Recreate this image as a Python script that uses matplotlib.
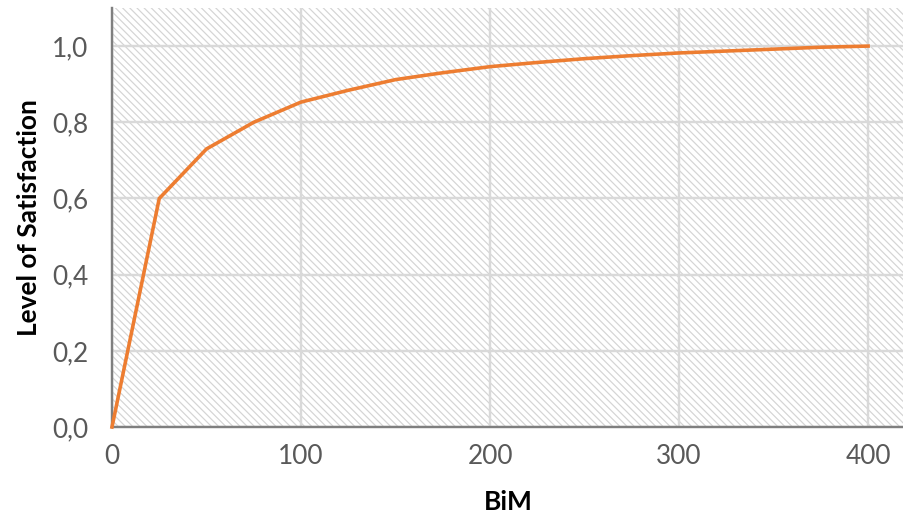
import matplotlib
matplotlib.use("Agg")
import matplotlib.pyplot as plt
from matplotlib.patches import Rectangle
from matplotlib.ticker import FuncFormatter

# ── data ─────────────────────────────────────────────────────
bim = [0, 25, 50, 75, 100, 125, 150, 175, 200, 225, 250, 275, 300, 325, 350, 375, 400]
satisfaction = [0.0, 0.60, 0.73, 0.80, 0.853, 0.884, 0.912, 0.930, 0.946, 0.957,
                0.967, 0.975, 0.982, 0.987, 0.992, 0.997, 1.0]
x_ticks = [0, 100, 200, 300, 400]
y_ticks = [0.0, 0.2, 0.4, 0.6, 0.8, 1.0]

DPI = 86
plt.rcParams['font.family'] = ['Lato', 'DejaVu Sans']
plt.rcParams['hatch.color'] = '#d4d4d4'
plt.rcParams['hatch.linewidth'] = 1.0

fig = plt.figure(figsize=(904 / DPI, 527 / DPI), dpi=DPI)
ax = fig.add_axes([112 / 904, 1 - 427 / 527, 1 - 112 / 904, (427 - 8) / 527])

# diagonal hatched background
bg = Rectangle((0, 0), 1, 1, transform=ax.transAxes, facecolor='white',
               edgecolor='#d4d4d4', linewidth=0, hatch='\\\\\\\\', zorder=0)
ax.add_patch(bg)

ax.set_xlim(0, 419)
ax.set_ylim(0, 1.1)
ax.set_xticks(x_ticks)
ax.set_yticks(y_ticks)
ax.yaxis.set_major_formatter(FuncFormatter(lambda v, p: f"{v:.1f}".replace('.', ',')))

ax.grid(True, color='#d9d9d9', linewidth=2.0, zorder=1)
ax.set_axisbelow(True)

ax.plot(bim, satisfaction, color='#ED7D31', linewidth=3.0, zorder=3,
        solid_joinstyle='miter', clip_on=False)

for side in ['top', 'right']:
    ax.spines[side].set_visible(False)
for side in ['left', 'bottom']:
    ax.spines[side].set_color('#7f7f7f')
    ax.spines[side].set_linewidth(2.0)
    ax.spines[side].set_zorder(2)

ax.tick_params(axis='both', length=0, labelsize=22, labelcolor='#595959')
ax.tick_params(axis='y', pad=20)
ax.tick_params(axis='x', pad=14)

ax.set_xlabel('BiM', fontsize=22, fontweight='bold', color='black', labelpad=18)
ax.set_ylabel('Level of Satisfaction', fontsize=22, fontweight='bold', color='black', labelpad=9)

fig.savefig('out.png', dpi=DPI)
